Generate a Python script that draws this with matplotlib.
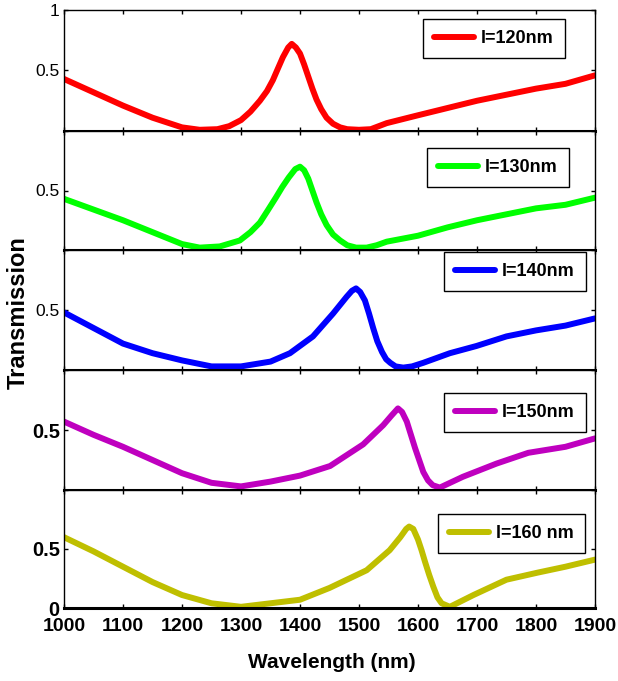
import matplotlib
matplotlib.use("Agg")
from matplotlib import pyplot as plt
from matplotlib.ticker import FixedLocator

# transmission spectra for five values of l
wl_120 = [1000, 1050, 1100, 1150, 1200, 1230, 1260, 1280, 1300, 1316, 1332, 1344, 1354, 1362,
          1371, 1380, 1386, 1393, 1400, 1407, 1414, 1421, 1428, 1436, 1445, 1456, 1468, 1480,
          1500, 1520, 1547, 1600, 1650, 1700, 1750, 1800, 1850, 1900]
tr_120 = [0.43, 0.32, 0.21, 0.11, 0.03, 0.01, 0.015, 0.04, 0.09, 0.16, 0.25, 0.33, 0.42, 0.51,
          0.61, 0.69, 0.72, 0.69, 0.64, 0.55, 0.45, 0.35, 0.26, 0.18, 0.11, 0.06, 0.03, 0.015,
          0.01, 0.015, 0.065, 0.13, 0.19, 0.25, 0.30, 0.35, 0.39, 0.46]

wl_130 = [1000, 1050, 1100, 1150, 1200, 1230, 1264, 1298, 1316, 1332, 1345, 1359, 1370, 1381,
          1392, 1400, 1407, 1414, 1421, 1428, 1436, 1445, 1456, 1468, 1480, 1495, 1513, 1530,
          1547, 1600, 1650, 1700, 1750, 1800, 1850, 1900]
tr_130 = [0.43, 0.34, 0.25, 0.15, 0.05, 0.02, 0.03, 0.08, 0.15, 0.23, 0.33, 0.44, 0.53, 0.61,
          0.68, 0.70, 0.67, 0.60, 0.50, 0.40, 0.30, 0.21, 0.13, 0.08, 0.04, 0.02, 0.02, 0.04,
          0.07, 0.12, 0.19, 0.25, 0.30, 0.35, 0.38, 0.44]

wl_140 = [1000, 1050, 1100, 1150, 1200, 1250, 1300, 1350, 1383, 1422, 1456, 1479, 1488, 1495,
          1502, 1510, 1517, 1524, 1531, 1539, 1546, 1553, 1562, 1575, 1590, 1609, 1654, 1699,
          1750, 1800, 1850, 1900]
tr_140 = [0.48, 0.35, 0.22, 0.14, 0.08, 0.03, 0.03, 0.07, 0.14, 0.28, 0.47, 0.61, 0.66, 0.68,
          0.65, 0.58, 0.47, 0.35, 0.24, 0.15, 0.09, 0.06, 0.03, 0.02, 0.03, 0.06, 0.14, 0.20,
          0.28, 0.33, 0.37, 0.43]

wl_150 = [1000, 1050, 1100, 1150, 1200, 1250, 1300, 1350, 1400, 1451, 1507, 1541, 1555, 1566,
          1573, 1581, 1588, 1595, 1602, 1609, 1617, 1625, 1637, 1650, 1676, 1733, 1787, 1850,
          1900]
tr_150 = [0.57, 0.46, 0.36, 0.25, 0.14, 0.06, 0.03, 0.07, 0.12, 0.20, 0.38, 0.54, 0.62, 0.68,
          0.65, 0.57, 0.46, 0.35, 0.25, 0.15, 0.08, 0.04, 0.02, 0.05, 0.11, 0.22, 0.31, 0.36,
          0.43]

wl_160 = [1000, 1050, 1100, 1150, 1200, 1250, 1300, 1350, 1400, 1450, 1513, 1552, 1570, 1580,
          1585, 1592, 1600, 1606, 1612, 1619, 1626, 1633, 1640, 1654, 1670, 1694, 1750, 1803,
          1850, 1900]
tr_160 = [0.60, 0.48, 0.35, 0.22, 0.11, 0.04, 0.01, 0.04, 0.07, 0.17, 0.32, 0.49, 0.60, 0.67,
          0.69, 0.67, 0.58, 0.49, 0.39, 0.28, 0.18, 0.09, 0.04, 0.01, 0.05, 0.11, 0.24, 0.30,
          0.35, 0.41]

labels = ["l=120nm", "l=130nm", "l=140nm", "l=150nm", "l=160 nm"]
colors = ["#ff0000", "#00ff00", "#0000ff", "#bf00bf", "#bfbf00"]
series = [(wl_120, tr_120), (wl_130, tr_130), (wl_140, tr_140),
          (wl_150, tr_150), (wl_160, tr_160)]

xticks = [1000, 1100, 1200, 1300, 1400, 1500, 1600, 1700, 1800, 1900]

font = ["Liberation Sans", "DejaVu Sans"]

W, H = 618, 681
fig = plt.figure(figsize=(W / 100, H / 100), dpi=100)

left, right = 64, 595
tops = [10, 131, 250, 370, 490]
bottoms = [131, 250, 370, 490, 608]
# legend upper-right corners in axes coords
leg_anchor = [(0.943, 0.926), (0.951, 0.857), (0.983, 0.983), (0.983, 0.808), (0.981, 0.797)]

for i in range(5):
	ax = fig.add_axes([left / W, 1 - bottoms[i] / H, (right - left) / W, (bottoms[i] - tops[i]) / H])
	wl, tr = series[i]
	ax.plot(wl, tr, color=colors[i], lw=4.3, label=labels[i],
			solid_capstyle="round", solid_joinstyle="round")
	ax.set_xlim(1000, 1900)
	ax.set_ylim(0, 1)
	ax.xaxis.set_major_locator(FixedLocator(xticks))
	ax.yaxis.set_major_locator(FixedLocator([0, 0.5, 1]))
	ax.tick_params(direction="in", length=3, width=1, top=True, right=True, colors="black")

	for s in ax.spines.values():
		s.set_linewidth(1.0)
	ax.spines["bottom"].set_linewidth(2.2)

	if i == 4:
		ax.set_xticklabels([str(t) for t in xticks], fontfamily=font, fontweight="bold", fontsize=14)
		ax.tick_params(axis="x", pad=7)
	else:
		ax.set_xticklabels([])

	ylabs = ["", "0.5", ""]
	if i == 0:
		ylabs = ["", "0.5", "1"]
	if i == 4:
		ylabs = ["0", "0.5", ""]
	if i >= 3:
		ax.set_yticklabels(ylabs, fontfamily=font, fontweight="bold", fontsize=14.5)
	else:
		ax.set_yticklabels(ylabs, fontfamily=font, fontsize=12.5)
	ax.tick_params(axis="y", pad=3)

	leg = ax.legend(loc="upper right", bbox_to_anchor=leg_anchor[i], borderaxespad=0,
					fancybox=False, framealpha=1, edgecolor="black", handlelength=2.2,
					handletextpad=0.4, borderpad=0.62,
					prop={"family": font, "weight": "bold", "size": 13})
	leg.get_frame().set_linewidth(1.0)

fig.text(0.03, 1 - 313 / H, "Transmission", rotation=90, ha="center", va="center",
		 fontfamily=font, fontweight="bold", fontsize=17)
fig.text(332 / W, 1 - 662 / H, "Wavelength (nm)", ha="center", va="center",
		 fontfamily=font, fontweight="bold", fontsize=15)

fig.savefig("out.png", dpi=100)
